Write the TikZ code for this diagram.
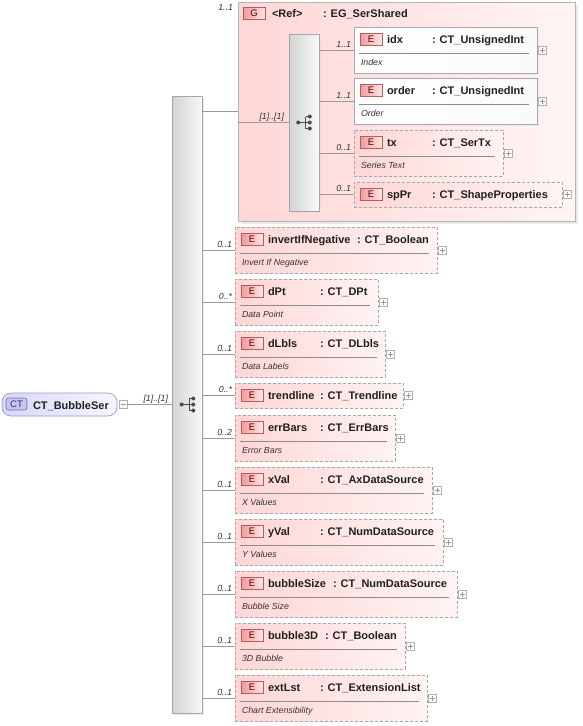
\documentclass[tikz,border=0pt]{standalone}
\usepackage{fontspec}
\setmainfont{Liberation Sans}
\usetikzlibrary{shadows}
\definecolor{conncol}{HTML}{9A9A9A}
\definecolor{boxborder}{HTML}{A8A8A8}
\definecolor{epinkL}{HTML}{FFD6D6}
\definecolor{epinkR}{HTML}{FFF3F3}
\definecolor{grpL}{HTML}{FFD6D6}
\definecolor{grpR}{HTML}{FFF5F5}
\definecolor{grpborder}{HTML}{B4B4B4}
\definecolor{badgeL}{HTML}{F09A9A}
\definecolor{badgeR}{HTML}{FCE6E6}
\definecolor{badgeborder}{HTML}{B85C5C}
\definecolor{badgetext}{HTML}{5A0000}
\definecolor{ctL}{HTML}{D8D8F8}
\definecolor{ctR}{HTML}{F6F6FF}
\definecolor{ctborder}{HTML}{9A9ACF}
\definecolor{ctbadgefill}{HTML}{C6C6F2}
\definecolor{ctbadgeborder}{HTML}{6E6EB0}
\definecolor{ctbadgetext}{HTML}{303070}
\definecolor{barL}{HTML}{D4D4D4}
\definecolor{barR}{HTML}{F8F8F8}
\definecolor{barborder}{HTML}{A6A6A6}
\definecolor{plusborder}{HTML}{B0B0B0}
\definecolor{txtcol}{HTML}{202020}
\tikzset{
  every node/.style={inner sep=0pt, outer sep=0pt},
  conn/.style={draw=conncol, line width=0.8pt},
  ebase/.style={rectangle, draw=boxborder, line width=0.7pt, left color=epinkL, right color=epinkR},
  eopt/.style={ebase, dash pattern=on 3pt off 2pt},
  emand/.style={ebase, left color=white, right color=white!98!black,
    drop shadow={shadow xshift=1.5pt, shadow yshift=-1.5pt, fill=black!10}},
  seqbar/.style={rectangle, draw=barborder, line width=0.7pt, left color=barL, right color=barR,
    drop shadow={shadow xshift=2pt, shadow yshift=-2pt, fill=black!14}},
  grpbox/.style={rectangle, draw=grpborder, line width=0.7pt, left color=grpL, right color=grpR,
    drop shadow={shadow xshift=2.5pt, shadow yshift=-2.5pt, fill=black!16}},
  badge/.style={rectangle, draw=badgeborder, line width=0.6pt, left color=badgeL, right color=badgeR,
    minimum width=22pt, minimum height=12pt, anchor=north west,
    font=\fontsize{9.5}{10}\selectfont, text=badgetext},
  nm/.style={font=\fontsize{11}{12}\selectfont\bfseries, text=txtcol, anchor=base west},
  ds/.style={font=\fontsize{8.8}{10}\selectfont\itshape, text=black!80, anchor=base west},
  mult/.style={font=\fontsize{8.8}{10}\selectfont\itshape, text=black!80, anchor=base east},
  sepline/.style={draw=black!45, line width=0.6pt},
  plusbox/.style={rectangle, draw=plusborder, fill=white, line width=0.5pt, minimum size=8pt},
  plusline/.style={draw=black!40, line width=0.5pt},
  seqline/.style={draw=black!70, line width=0.8pt},
  seqdot/.style={fill=black!70},
  ctbox/.style={rectangle, rounded corners=9pt, draw=ctborder, line width=0.7pt, left color=ctL, right color=ctR},
  ctbadge/.style={rectangle, rounded corners=2.5pt, draw=ctbadgeborder, line width=0.6pt, fill=ctbadgefill,
    minimum width=21pt, minimum height=12pt, anchor=north west,
    font=\fontsize{9.5}{10}\selectfont, text=ctbadgetext}
}
% element box: id, top, right, name, type x, type, description, style
\newcommand{\xel}[8]{%
  \def\xdesc{#7}%
  \ifx\xdesc\empty\def\xh{25}\else\def\xh{46}\fi
  \pgfmathsetmacro{\xw}{#3-\elL}%
  \node[#8, anchor=north west, minimum width=\xw pt, minimum height=\xh pt] (#1) at (\elL,#2) {};
  \node[badge] (#1-b) at (\elL+6,#2+6) {E};
  \node[nm] (#1-n) at (\elL+33,#2+16) {#4};
  \node[nm] (#1-t) at (#5,#2+16) {#6};
  \ifx\xdesc\empty\else
    \draw[sepline] (\elL+5,#2+26) -- (#3-8,#2+26);
    \node[ds] (#1-d) at (\elL+7,#2+38) {#7};
  \fi
  \node[plusbox] (#1-p) at (#3+5.5,#2+\xh/2) {};
  \draw[plusline] ([xshift=-2.5pt]#1-p.center) -- ([xshift=2.5pt]#1-p.center)
    ([yshift=-2.5pt]#1-p.center) -- ([yshift=2.5pt]#1-p.center);
}
% connector: bar, element, multiplicity
\newcommand{\xcn}[3]{%
  \draw[conn] (#1.east |- #2.west) -- (#2.west);
  \node[mult] at ([xshift=-3pt,yshift=3pt]#2.west) {#3};
}
% sequence icon at centre
\newcommand{\xseq}[2]{%
  \draw[seqline] (#1-6.3,#2) -- (#1+1.3,#2)
    (#1+1.3,#2-6) -- (#1+1.3,#2+6)
    (#1+1.3,#2-6) -- (#1+5.3,#2-6)
    (#1+1.3,#2+6) -- (#1+5.3,#2+6)
    (#1+1.3,#2) -- (#1+5.3,#2);
  \fill[seqdot] (#1-6.3,#2) circle (2pt) (#1+5.3,#2-6) circle (2pt)
    (#1+5.3,#2) circle (2pt) (#1+5.3,#2+6) circle (2pt);
}
\begin{document}
\begin{tikzpicture}[x=1pt,y=-1pt]
\useasboundingbox (0,0) rectangle (582,726);
% main sequence bar
\node[seqbar, anchor=north west, minimum width=30pt, minimum height=617pt] (mainbar) at (172,96) {};
\xseq{188}{404.5}
% complex type node
\node[ctbox, anchor=north west, minimum width=115pt, minimum height=23pt] (ct) at (2,393) {};
\node[ctbadge] (ctb) at (6,398) {CT};
\node[nm, font=\fontsize{11}{12}\selectfont\bfseries] (ctn) at (33,409) {CT\_BubbleSer};
\node[plusbox] (ctm) at (123,404.5) {};
\draw[plusline] ([xshift=-2.5pt]ctm.center) -- ([xshift=2.5pt]ctm.center);
\path (mainbar.west |- ctm.east) coordinate (ctj);
\draw[conn] (ctm.east) -- (ctj);
\node[mult] at ([xshift=-4pt,yshift=3pt]ctj) {[1]..[1]};
% group
\node[grpbox, anchor=north west, minimum width=337pt, minimum height=219pt] (grp) at (238,2) {};
\node[badge] (grpb) at (243,7) {G};
\node[nm] (grpr) at (272,17) {<Ref>};
\node[nm] (grpt) at (323,17) {: EG\_SerShared};
\node[mult] at (233,10) {1..1};
\draw[conn] (mainbar.east |- grp.west) -- (grp.west);
% inner sequence bar
\node[seqbar, anchor=north west, minimum width=30pt, minimum height=177pt] (ibar) at (289,34) {};
\xseq{304.5}{122.5}
\draw[conn] (grp.west |- ibar.west) -- (ibar.west);
\node[mult] at ([xshift=-5pt,yshift=3pt]ibar.west) {[1]..[1]};
% inner elements
\def\elL{354}
\xel{idx}{27}{537}{idx}{432}{: CT\_UnsignedInt}{Index}{emand}
\xel{order}{78}{537}{order}{432}{: CT\_UnsignedInt}{Order}{emand}
\xel{tx}{130}{503}{tx}{432}{: CT\_SerTx}{Series Text}{eopt}
\xel{spPr}{182}{562}{spPr}{432}{: CT\_ShapeProperties}{}{eopt}
\xcn{ibar}{idx}{1..1}
\xcn{ibar}{order}{1..1}
\xcn{ibar}{tx}{0..1}
\xcn{ibar}{spPr}{0..1}
% main elements
\def\elL{235}
\xel{inv}{227}{437}{invertIfNegative}{357}{: CT\_Boolean}{Invert If Negative}{eopt}
\xel{dpt}{279}{378}{dPt}{320}{: CT\_DPt}{Data Point}{eopt}
\xel{dlbls}{331}{385}{dLbls}{320}{: CT\_DLbls}{Data Labels}{eopt}
\xel{trend}{383}{403}{trendline}{320}{: CT\_Trendline}{}{eopt}
\xel{err}{415}{395}{errBars}{320}{: CT\_ErrBars}{Error Bars}{eopt}
\xel{xval}{467}{432}{xVal}{320}{: CT\_AxDataSource}{X Values}{eopt}
\xel{yval}{519}{443}{yVal}{320}{: CT\_NumDataSource}{Y Values}{eopt}
\xel{bsize}{571}{457}{bubbleSize}{333}{: CT\_NumDataSource}{Bubble Size}{eopt}
\xel{b3d}{623}{405}{bubble3D}{325}{: CT\_Boolean}{3D Bubble}{eopt}
\xel{ext}{675}{427}{extLst}{320}{: CT\_ExtensionList}{Chart Extensibility}{eopt}
\xcn{mainbar}{inv}{0..1}
\xcn{mainbar}{dpt}{0..*}
\xcn{mainbar}{dlbls}{0..1}
\xcn{mainbar}{trend}{0..*}
\xcn{mainbar}{err}{0..2}
\xcn{mainbar}{xval}{0..1}
\xcn{mainbar}{yval}{0..1}
\xcn{mainbar}{bsize}{0..1}
\xcn{mainbar}{b3d}{0..1}
\xcn{mainbar}{ext}{0..1}
\end{tikzpicture}
\end{document}
